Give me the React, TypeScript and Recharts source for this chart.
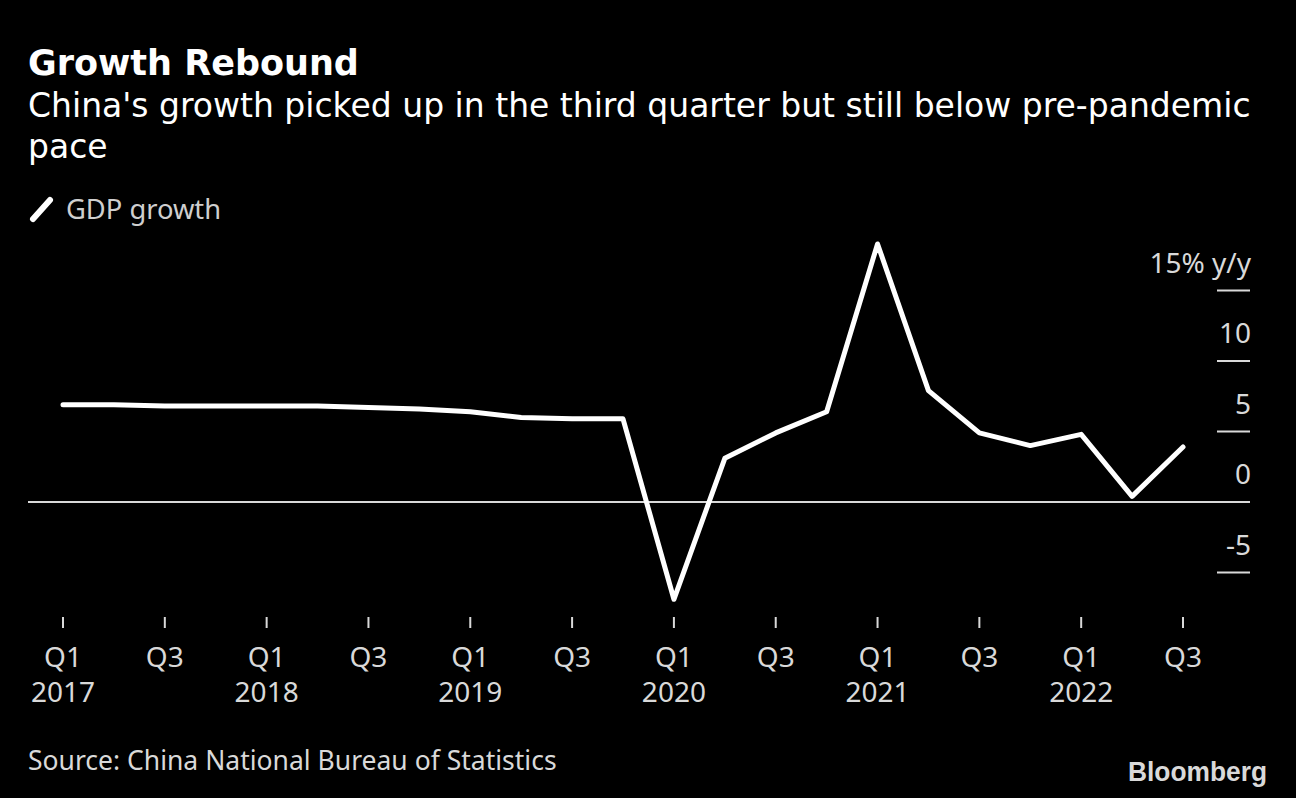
import { Line, LineChart, ReferenceLine, XAxis, YAxis } from 'recharts';

// quarterly real GDP, % y/y
const quarters = [
  'Q1 2017', 'Q2 2017', 'Q3 2017', 'Q4 2017',
  'Q1 2018', 'Q2 2018', 'Q3 2018', 'Q4 2018',
  'Q1 2019', 'Q2 2019', 'Q3 2019', 'Q4 2019',
  'Q1 2020', 'Q2 2020', 'Q3 2020', 'Q4 2020',
  'Q1 2021', 'Q2 2021', 'Q3 2021', 'Q4 2021',
  'Q1 2022', 'Q2 2022', 'Q3 2022',
];
const gdpGrowth = [
  6.9, 6.9, 6.8, 6.8,
  6.8, 6.8, 6.7, 6.6,
  6.4, 6.0, 5.9, 5.9,
  -6.9, 3.1, 4.9, 6.4,
  18.3, 7.9, 4.9, 4.0,
  4.8, 0.4, 3.9,
];
const yTicks = [-5, 0, 5, 10, 15];

const data = quarters.map((quarter, i) => ({ quarter, growth: gdpGrowth[i] }));

const FONT = "'Noto Sans', sans-serif";
const HEAD_FONT = "'DejaVu Sans', 'Noto Sans', sans-serif";
const GREY = '#d9d9d9';

function XTick(props: any) {
  const { x, y, payload } = props;
  const [q, year] = String(payload.value).split(' ');
  return (
    <g>
      <line x1={x} x2={x} y1={y - 26} y2={y - 15} stroke={GREY} strokeWidth={2} />
      <text x={x} y={y + 24} textAnchor="middle" fill={GREY} fontSize={28} fontFamily={FONT}>{q}</text>
      {q === 'Q1' && (
        <text x={x} y={y + 59} textAnchor="middle" fill={GREY} fontSize={28} fontFamily={FONT}>{year}</text>
      )}
    </g>
  );
}

// y tick: short rule at the value, label sitting above it, right aligned
function YTick(props: any) {
  const { y, payload } = props;
  const right = 1250;
  const label = payload.value === 15 ? '15% y/y' : String(payload.value);
  return (
    <g>
      {payload.value !== 0 && <line x1={right - 33} x2={right} y1={y} y2={y} stroke={GREY} strokeWidth={2} />}
      <text x={right + 1} y={y - 18} textAnchor="end" fill={GREY} fontSize={28} fontFamily={FONT}>{label}</text>
    </g>
  );
}

export default function App() {
  return (
    <div style={{ position: 'absolute', left: 0, top: 0, width: 1296, height: 798, background: '#000', overflow: 'hidden' }}>
      <LineChart
        width={1296}
        height={798}
        data={data}
        margin={{ top: 220, right: 6, left: 28, bottom: 95 }}
        style={{ position: 'absolute', left: 0, top: 0 }}
      >
        <XAxis
          dataKey="quarter"
          interval={1}
          padding={{ left: 35, right: 67 }}
          axisLine={false}
          tickLine={false}
          tickSize={0}
          tickMargin={0}
          height={60}
          tick={<XTick />}
        />
        <YAxis
          orientation="right"
          domain={[-10, 20]}
          ticks={yTicks}
          width={40}
          axisLine={false}
          tickLine={false}
          tick={<YTick />}
        />
        <ReferenceLine y={0} stroke={GREY} strokeWidth={2} />
        <Line
          type="linear"
          dataKey="growth"
          stroke="#fff"
          strokeWidth={5}
          strokeLinecap="round"
          strokeLinejoin="round"
          dot={false}
          activeDot={false}
          isAnimationActive={false}
        />
      </LineChart>
      <svg width={1296} height={798} style={{ position: 'absolute', left: 0, top: 0, pointerEvents: 'none' }}>
        <text x={28} y={75} fill="#fff" fontSize={35} fontWeight="bold" fontFamily={HEAD_FONT}>Growth Rebound</text>
        <text x={28} y={117} fill="#fff" fontSize={33} fontFamily={HEAD_FONT}>
          China's growth picked up in the third quarter but still below pre-pandemic
        </text>
        <text x={28} y={158} fill="#fff" fontSize={33} fontFamily={HEAD_FONT}>pace</text>
        <line x1={33} y1={219} x2={50} y2={200} stroke="#fff" strokeWidth={6} strokeLinecap="round" />
        <text x={66} y={219} fill="#cfcfcf" fontSize={27.3} fontFamily={FONT}>GDP growth</text>
        <text x={28} y={770} fill={GREY} fontSize={26.5} fontFamily={FONT}>Source: China National Bureau of Statistics</text>
        <text x={1128} y={781} fill={GREY} fontSize={27} fontWeight="bold" fontFamily="'Liberation Sans', Arial, sans-serif" textLength={139} lengthAdjust="spacingAndGlyphs">Bloomberg</text>
      </svg>
    </div>
  );
}
